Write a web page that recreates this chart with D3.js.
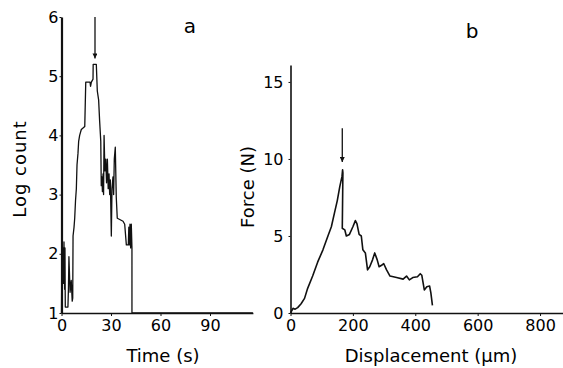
<!DOCTYPE html>
<html>
<head>
  <meta charset="UTF-8">
  <title>Log count and force</title>
  <style>
    body { margin: 0; background: #fff; }
    svg { display: block; }
    text { font-family: 'DejaVu Sans', sans-serif; fill: #000; }
    .axis path, .axis line { stroke: #111; fill: none; }
    .axis text { font-size: 16px; fill: #000; }
    .title { font-size: 18px; }
  </style>
</head>
<body>
<svg id="chart"></svg>
<script src="https://d3js.org/d3.v7.min.js"></script>
<script>

// Panel a: acoustic emission, log count vs time
const timeS = [0, 0.2, 0.5, 0.9, 1.2, 1.5, 1.9, 2.1, 2.3, 3.9, 4.2, 4.5, 5.2, 5.9, 6.5, 6.8,
    7.0, 7.6, 8.0, 8.5, 9.0, 9.4, 10.0, 10.4, 11.0, 12.0, 14.1, 14.7, 17.3, 17.6, 18.1, 19.1,
    19.2, 21.1, 21.7, 22.5, 23.1, 23.8, 24.1, 24.5, 24.8, 25.2, 25.5, 25.8, 26.3, 26.8, 27.3,
    27.8, 28.3, 28.8, 29.2, 29.6, 30.2, 30.6, 31.2, 31.6, 32.0, 32.6, 33.2, 33.8, 35.3, 37.3,
    38.3, 39.3, 40.5, 40.8, 41.1, 41.5, 41.9, 42.3, 42.7, 42.7, 116];
const logCount = [1.0, 1.8, 1.6, 2.1, 1.5, 2.2, 1.4, 2.1, 1.1, 1.1, 1.4, 1.95, 1.35, 1.55, 1.2, 1.25,
    2.3, 2.45, 2.6, 2.9, 3.1, 3.5, 3.7, 3.9, 4.0, 4.1, 4.15, 4.9, 4.9, 4.83, 4.9, 4.95,
    5.2, 5.2, 4.75, 4.6, 4.25, 3.9, 3.15, 3.3, 3.05, 3.35, 3.0, 4.0, 3.4, 3.6, 3.2,
    3.6, 3.1, 3.35, 3.0, 3.25, 2.3, 3.1, 3.3, 3.0, 3.6, 3.8, 2.95, 2.6, 2.58, 2.55,
    2.5, 2.15, 2.15, 2.45, 2.15, 2.5, 2.1, 2.5, 2.1, 1.0, 1.0];
const timeTicks = [0, 30, 60, 90];
const logTicks = [1, 2, 3, 4, 5, 6];
const arrowA = { x: 20.3, from: 6.0, to: 5.3 };

// Panel b: force vs displacement
const dispUm = [0, 8, 15, 23, 34, 45, 55, 71, 87, 104, 120, 131, 141, 150, 158, 165, 167, 168,
    166, 174, 179, 189, 200, 208, 213, 220, 227, 232, 240, 247, 254, 263, 270, 278, 284,
    292, 299, 308, 319, 340, 361, 372, 381, 392, 407, 416, 421, 429, 437, 446, 450, 455];
const forceN = [0, 0.3, 0.25, 0.35, 0.6, 0.95, 1.6, 2.4, 3.3, 4.1, 5.0, 5.6, 6.5, 7.3, 8.2, 8.85, 9.3, 9.1,
    5.5, 5.4, 5.0, 5.1, 5.6, 6.0, 5.8, 5.1, 5.0, 4.1, 3.9, 2.8, 3.0, 3.45, 3.9, 3.45, 3.0,
    3.1, 3.2, 2.8, 2.4, 2.3, 2.2, 2.4, 2.15, 2.3, 2.35, 2.55, 2.45, 1.5, 1.7, 1.75, 1.3, 0.5];
const dispTicks = [0, 200, 400, 600, 800];
const forceTicks = [0, 5, 10, 15];
const arrowB = { x: 166, from: 12.0, to: 9.8 };

const width = 563, height = 368;

const svg = d3.select("#chart")
    .attr("width", width)
    .attr("height", height);

svg.append("defs").append("marker")
    .attr("id", "head")
    .attr("viewBox", "0 0 10 10")
    .attr("refX", 10).attr("refY", 5)
    .attr("markerWidth", 5).attr("markerHeight", 5)
    .attr("markerUnits", "userSpaceOnUse")
    .attr("orient", "auto")
    .append("path")
    .attr("d", "M0,0L10,5L0,10Z")
    .style("fill", "#111");

// scales
const xA = d3.scaleLinear().domain([0, 116]).range([61.5, 252.9]);
const yA = d3.scaleLinear().domain([1, 6]).range([313, 17]);
const xB = d3.scaleLinear().domain([0, 880]).range([290.5, 565]);
const yB = d3.scaleLinear().domain([0, 16.1]).range([313, 65]);

function drawPanel(x, y, xs, ys, xTicks, yTicks, arrow, yPad, yWidth, lineW) {
    // axes
    svg.append("g")
        .attr("class", "axis")
        .attr("transform", "translate(0," + y.range()[0] + ")")
        .call(d3.axisBottom(x).tickValues(xTicks).tickFormat(d3.format("d"))
            .tickSizeInner(3).tickSizeOuter(0).tickPadding(4))
        .select(".domain").style("stroke-width", 1.6);

    svg.append("g")
        .attr("class", "axis")
        .attr("transform", "translate(" + x.range()[0] + ",0)")
        .call(d3.axisLeft(y).tickValues(yTicks).tickFormat(d3.format("d"))
            .tickSizeInner(2).tickSizeOuter(0).tickPadding(yPad))
        .select(".domain").style("stroke-width", yWidth);

    // trace
    const line = d3.line()
        .x((d, i) => x(xs[i]))
        .y((d, i) => y(ys[i]));

    svg.append("path")
        .datum(xs)
        .attr("d", line)
        .style("fill", "none")
        .style("stroke", "#111")
        .style("stroke-width", lineW)
        .style("stroke-linejoin", "round");

    // arrow
    svg.append("line")
        .attr("x1", x(arrow.x)).attr("x2", x(arrow.x))
        .attr("y1", y(arrow.from)).attr("y2", y(arrow.to))
        .style("stroke", "#111")
        .style("stroke-width", 1.3)
        .attr("marker-end", "url(#head)");
}

drawPanel(xA, yA, timeS, logCount, timeTicks, logTicks, arrowA, 1, 2.2, 1.3);
drawPanel(xB, yB, dispUm, forceN, dispTicks, forceTicks, arrowB, 5, 1.6, 1.6);

// titles
svg.append("text").attr("class", "title")
    .attr("x", 163).attr("y", 362)
    .attr("text-anchor", "middle")
    .text("Time (s)");

svg.append("text").attr("class", "title")
    .attr("x", 431).attr("y", 362)
    .attr("text-anchor", "middle")
    .text("Displacement (\u00b5m)");

svg.append("text").attr("class", "title")
    .attr("transform", "translate(26,169) rotate(-90)")
    .attr("text-anchor", "middle")
    .style("letter-spacing", "1px")
    .text("Log count");

svg.append("text").attr("class", "title")
    .attr("transform", "translate(254,187) rotate(-90)")
    .attr("text-anchor", "middle")
    .text("Force (N)");

// panel letters
svg.append("text")
    .attr("x", 190).attr("y", 33)
    .attr("text-anchor", "middle")
    .style("font-size", "20px")
    .text("a");

svg.append("text")
    .attr("x", 472).attr("y", 38)
    .attr("text-anchor", "middle")
    .style("font-size", "20px")
    .text("b");

</script>
</body>
</html>
